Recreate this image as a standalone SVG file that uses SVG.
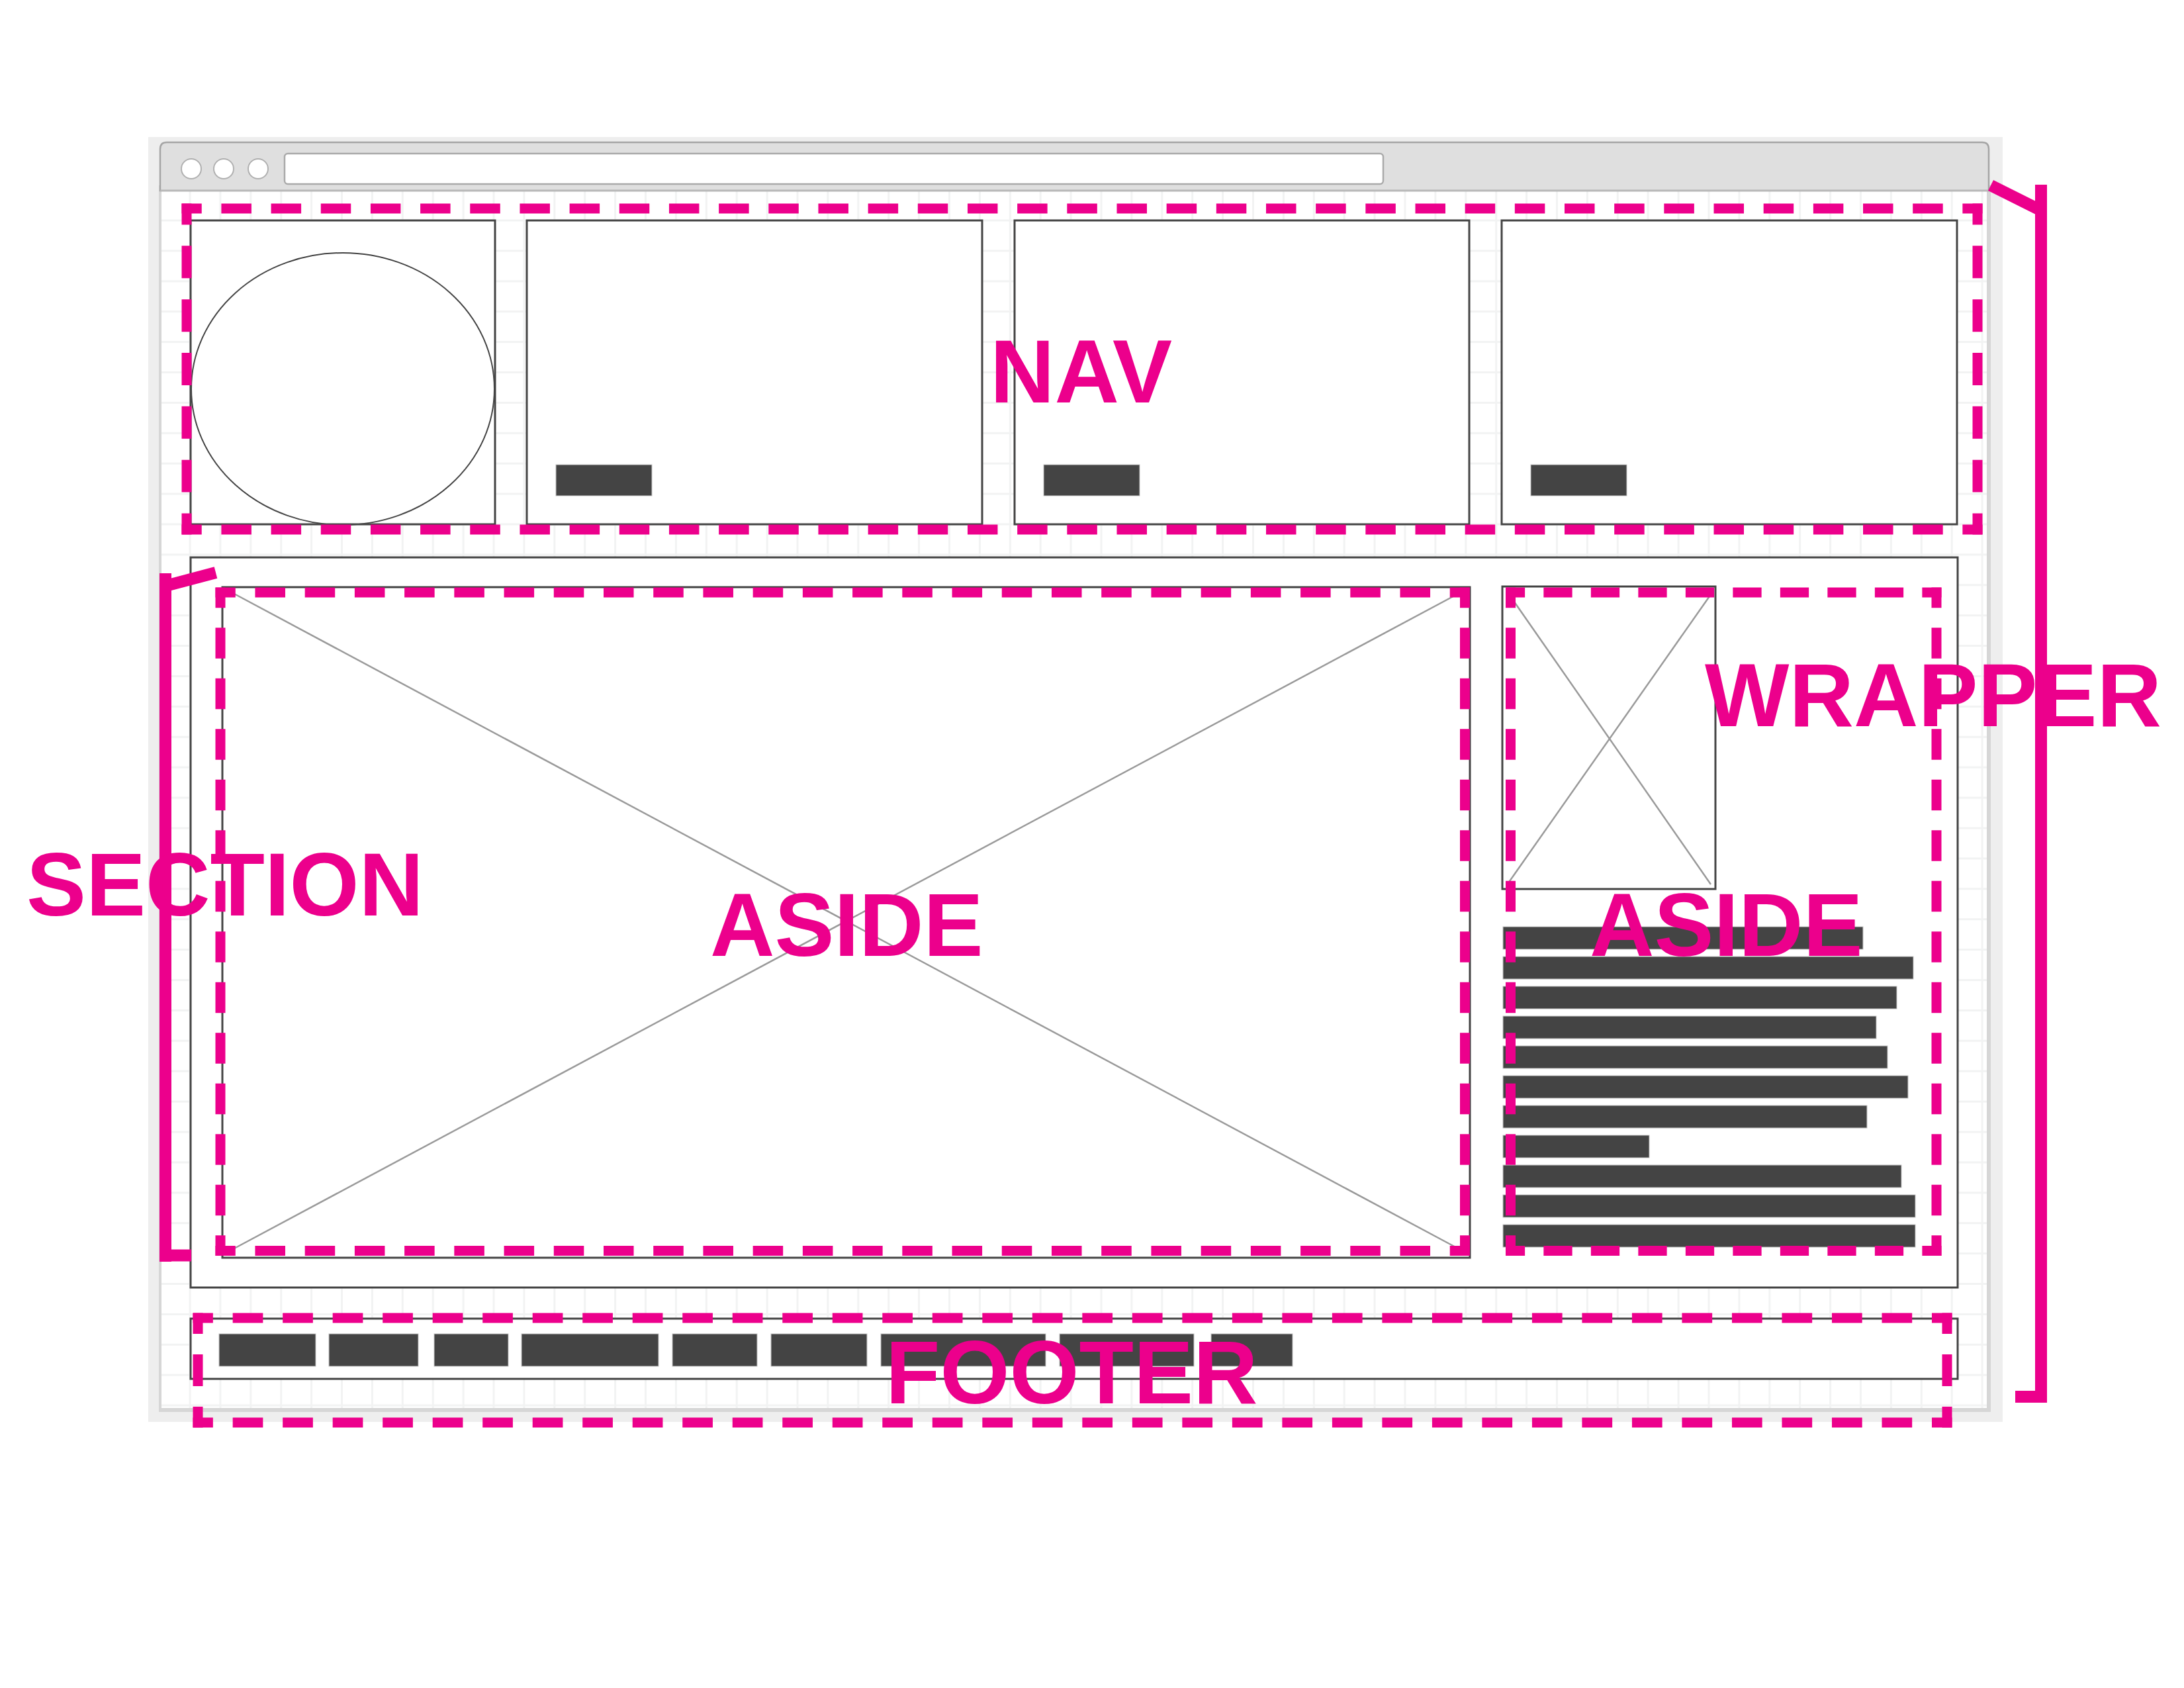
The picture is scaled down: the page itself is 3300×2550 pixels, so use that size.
<svg xmlns="http://www.w3.org/2000/svg" width="3300" height="2550" viewBox="0 0 3300 2550">
  <style>
    .box { fill: #ffffff; stroke: #444444; stroke-width: 3; }
    .fill-dark { fill: #444444; stroke: #c4c4c4; stroke-width: 1; }
    .cross { stroke: #9a9a9a; stroke-width: 2.5; fill: none; }
    .dash { fill: none; stroke: #EC008C; stroke-width: 15; stroke-linecap: butt; }
    .brk { fill: none; stroke: #EC008C; stroke-width: 18; stroke-linecap: butt; }
    .lbl { font-family: "Liberation Sans", Arial, Helvetica, sans-serif; font-weight: bold; font-size: 135px; fill: #EC008C; }
    .dot { fill: #ffffff; stroke: #b0b0b0; stroke-width: 2; }
  </style>
  <defs>
    <pattern id="grid" patternUnits="userSpaceOnUse" x="285.5" y="331.5" width="45.9" height="45.9">
      <rect x="0" y="0" width="3" height="45.9" fill="#f2f3f3"/>
      <rect x="0" y="0" width="45.9" height="3" fill="#f2f3f3"/>
    </pattern>
  </defs>
  <rect x="0" y="0" width="3300" height="2550" fill="#ffffff"/>

  <g id="browser">
    <rect x="224" y="207" width="2802" height="1941" fill="#eeeeee"/>
    <rect x="240" y="280" width="2768" height="1853" fill="#d6d6d6"/>
    <rect x="244" y="288" width="2758" height="1839" fill="#ffffff"/>
    <rect x="244" y="288" width="2758" height="1839" fill="url(#grid)"/>
    <path d="M 242 288 V 225 Q 242 215 252 215 H 2995 Q 3005 215 3005 225 V 288 Z" fill="#dfdfdf" stroke="#a5a5a5" stroke-width="2.5"/>
    <line x1="242" y1="288" x2="3005" y2="288" stroke="#b8b8b8" stroke-width="2.5"/>
    <rect x="430" y="232" width="1660" height="46" rx="5" fill="#ffffff" stroke="#aaaaaa" stroke-width="2.5"/>
    <circle class="dot" cx="289" cy="255" r="15"/>
    <circle class="dot" cx="338" cy="255" r="15"/>
    <circle class="dot" cx="390" cy="255" r="15"/>
  </g>

  <g id="nav-items">
    <rect class="box" x="288" y="333" width="460" height="459"/>
    <ellipse cx="518" cy="587.5" rx="229" ry="205.5" fill="none" stroke="#444444" stroke-width="2"/>
    <rect class="box" x="796" y="333" width="688" height="459"/>
    <rect class="fill-dark" x="840" y="702" width="145" height="47"/>
    <rect class="box" x="1533" y="333" width="687" height="459"/>
    <rect class="fill-dark" x="1577" y="702" width="145" height="47"/>
    <rect class="box" x="2269" y="333" width="688" height="459"/>
    <rect class="fill-dark" x="2313" y="702" width="145" height="47"/>
  </g>

  <g id="section-box">
    <rect class="box" x="288" y="842" width="2670" height="1103"/>
  </g>

  <g id="main-image">
    <rect class="box" x="336" y="887" width="1885" height="1013"/>
    <line class="cross" x1="352" y1="896" x2="2205" y2="1887"/>
    <line class="cross" x1="2205" y1="896" x2="352" y2="1887"/>
  </g>

  <g id="side-image">
    <rect class="box" x="2270" y="886" width="322" height="457"/>
    <line class="cross" x1="2281" y1="899" x2="2585" y2="1336"/>
    <line class="cross" x1="2585" y1="898" x2="2279" y2="1334"/>
  </g>

  <g id="side-text">
    <rect class="fill-dark" x="2271" y="1400" width="544" height="34"/>
    <rect class="fill-dark" x="2271" y="1445" width="620" height="34"/>
    <rect class="fill-dark" x="2271" y="1490" width="595" height="34"/>
    <rect class="fill-dark" x="2271" y="1535" width="564" height="34"/>
    <rect class="fill-dark" x="2271" y="1580" width="581" height="34"/>
    <rect class="fill-dark" x="2271" y="1625" width="612" height="34"/>
    <rect class="fill-dark" x="2271" y="1670" width="550" height="34"/>
    <rect class="fill-dark" x="2271" y="1715" width="221" height="34"/>
    <rect class="fill-dark" x="2271" y="1760" width="602" height="34"/>
    <rect class="fill-dark" x="2271" y="1805" width="623" height="34"/>
    <rect class="fill-dark" x="2271" y="1850" width="623" height="34"/>
  </g>

  <g id="footer-box">
    <rect class="box" x="288" y="1992" width="2670" height="91"/>
    <rect class="fill-dark" x="331" y="2015" width="146" height="49"/>
    <rect class="fill-dark" x="497" y="2015" width="135" height="49"/>
    <rect class="fill-dark" x="656" y="2015" width="112" height="49"/>
    <rect class="fill-dark" x="788" y="2015" width="207" height="49"/>
    <rect class="fill-dark" x="1016" y="2015" width="128" height="49"/>
    <rect class="fill-dark" x="1165" y="2015" width="145" height="49"/>
    <rect class="fill-dark" x="1331" y="2015" width="249" height="49"/>
    <rect class="fill-dark" x="1601" y="2015" width="203" height="49"/>
    <rect class="fill-dark" x="1830" y="2015" width="123" height="49"/>
  </g>

  <g id="nav-outline">
    <path class="dash" d="M 274.5 315 H 2995.5" stroke-dasharray="45.50 29.67" stroke-dashoffset="15.25"/>
    <path class="dash" d="M 274.5 800 H 2995.5" stroke-dasharray="45.50 29.67" stroke-dashoffset="15.25"/>
    <path class="dash" d="M 282 307.5 V 807.5" stroke-dasharray="48.93 31.90" stroke-dashoffset="16.96"/>
    <path class="dash" d="M 2988 307.5 V 807.5" stroke-dasharray="48.93 31.90" stroke-dashoffset="16.96"/>
  </g>

  <g id="aside-left-outline">
    <path class="dash" d="M 325.5 895 H 2221" stroke-dasharray="45.53 29.69" stroke-dashoffset="15.26"/>
    <path class="dash" d="M 325.5 1889.5 H 2221" stroke-dasharray="45.53 29.69" stroke-dashoffset="15.26"/>
    <path class="dash" d="M 333 887.5 V 1897" stroke-dasharray="46.30 30.20" stroke-dashoffset="15.65"/>
    <path class="dash" d="M 2213.5 887.5 V 1897" stroke-dasharray="46.30 30.20" stroke-dashoffset="15.65"/>
  </g>

  <g id="aside-right-outline">
    <path class="dash" d="M 2275 895 H 2933.5" stroke-dasharray="43.28 28.22" stroke-dashoffset="14.14"/>
    <path class="dash" d="M 2275 1889.5 H 2933.5" stroke-dasharray="43.28 28.22" stroke-dashoffset="14.14"/>
    <path class="dash" d="M 2282.5 887.5 V 1897" stroke-dasharray="46.30 30.20" stroke-dashoffset="15.65"/>
    <path class="dash" d="M 2926 887.5 V 1897" stroke-dasharray="46.30 30.20" stroke-dashoffset="15.65"/>
  </g>

  <g id="footer-outline">
    <path class="dash" d="M 291.5 1991 H 2949.5" stroke-dasharray="45.70 29.81" stroke-dashoffset="15.35"/>
    <path class="dash" d="M 291.5 2149 H 2949.5" stroke-dasharray="45.70 29.81" stroke-dashoffset="15.35"/>
    <path class="dash" d="M 299 1983.5 V 2156.5" stroke-dasharray="47.82 31.18" stroke-dashoffset="16.41"/>
    <path class="dash" d="M 2942 1983.5 V 2156.5" stroke-dasharray="47.82 31.18" stroke-dashoffset="16.41"/>
  </g>

  <g id="connectors">
    <g id="wrapper-bracket">
      <line class="brk" x1="3084" y1="279" x2="3084" y2="2119"/>
      <line class="brk" x1="3045" y1="2110" x2="3084" y2="2110"/>
      <line class="brk" x1="3008" y1="280" x2="3080" y2="316"/>
    </g>
    <g id="section-bracket">
      <line class="brk" x1="250" y1="866" x2="250" y2="1906"/>
      <line class="brk" x1="250" y1="1896.5" x2="289" y2="1896.5"/>
      <line class="brk" x1="254" y1="884" x2="326" y2="865"/>
    </g>
  </g>

  <g id="labels">
    <text class="lbl" x="1496" y="608" textLength="275" lengthAdjust="spacingAndGlyphs">NAV</text>
    <text class="lbl" x="2576" y="1097">WRAPPER</text>
    <text class="lbl" x="40" y="1383">SECTION</text>
    <text class="lbl" x="1073" y="1444">ASIDE</text>
    <text class="lbl" x="2402" y="1444">ASIDE</text>
    <text class="lbl" x="1338" y="2120">FOOTER</text>
  </g>
</svg>
